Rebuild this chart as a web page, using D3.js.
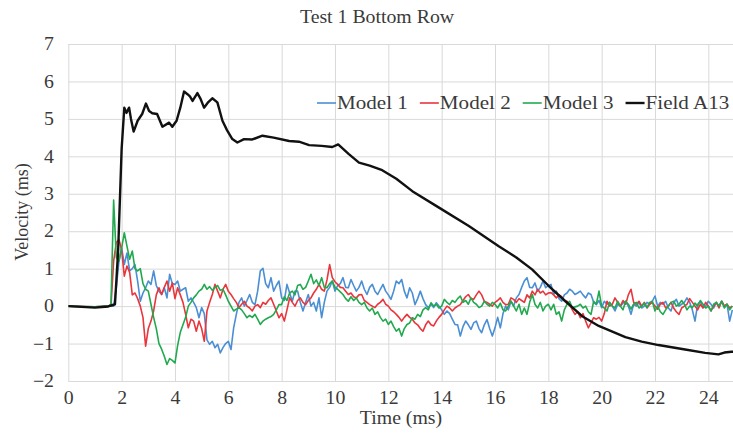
<!DOCTYPE html>
<html>
<head>
<meta charset="utf-8">
<script src="https://cdn.jsdelivr.net/npm/d3@7"></script>
<style>
  body { margin: 0; background: #fff; }
  svg { display: block; }
  text { font-family: "Liberation Serif", "Times New Roman", serif; }
</style>
</head>
<body>
<svg id="chart" width="733" height="433"></svg>
<script>
// Series names and colours
const seriesNames = ["Model 1", "Model 2", "Model 3", "Field A13"];
const seriesColors = ["#4a8fd4", "#e8363c", "#22a94f", "#111111"];

// Sample times (ms) shared by the three model traces
const modelTime = [
  0, 0.5, 1.0, 1.5,
  1.6, 1.7, 1.8, 1.9,
  2.0, 2.1, 2.2, 2.3, 2.4, 2.5, 2.6, 2.7, 2.8, 2.9,
  3.0, 3.1, 3.2, 3.3, 3.4, 3.5, 3.6, 3.7, 3.8, 3.9,
  4.0, 4.1, 4.2, 4.3, 4.4, 4.5, 4.6, 4.7, 4.8, 4.9,
  5.0, 5.1, 5.2, 5.3, 5.4, 5.5, 5.6, 5.7, 5.8, 5.9,
  6.0, 6.1, 6.2, 6.3, 6.4, 6.5, 6.6, 6.7, 6.8, 6.9,
  7.0, 7.1, 7.2, 7.3, 7.4, 7.5, 7.6, 7.7, 7.8, 7.9,
  8.0, 8.1, 8.2, 8.3, 8.4, 8.5, 8.6, 8.7, 8.8, 8.9,
  9.0, 9.1, 9.2, 9.3, 9.4, 9.5, 9.6, 9.7, 9.8, 9.9,
  10.0, 10.1, 10.2, 10.3, 10.4, 10.5, 10.6, 10.7, 10.8, 10.9,
  11.0, 11.1, 11.2, 11.3, 11.4, 11.5, 11.6, 11.7, 11.8, 11.9,
  12.0, 12.1, 12.2, 12.3, 12.4, 12.5, 12.6, 12.7, 12.8, 12.9,
  13.0, 13.1, 13.2, 13.3, 13.4, 13.5, 13.6, 13.7, 13.8, 13.9,
  14.0, 14.1, 14.2, 14.3, 14.4, 14.5, 14.6, 14.7, 14.8, 14.9,
  15.0, 15.1, 15.2, 15.3, 15.4, 15.5, 15.6, 15.7, 15.8, 15.9,
  16.0, 16.1, 16.2, 16.3, 16.4, 16.5, 16.6, 16.7, 16.8, 16.9,
  17.0, 17.1, 17.2, 17.3, 17.4, 17.5, 17.6, 17.7, 17.8, 17.9,
  18.0, 18.1, 18.2, 18.3, 18.4, 18.5, 18.6, 18.7, 18.8, 18.9,
  19.0, 19.1, 19.2, 19.3, 19.4, 19.5, 19.6, 19.7, 19.8, 19.9,
  20.0, 20.1, 20.2, 20.3, 20.4, 20.5, 20.6, 20.7, 20.8, 20.9,
  21.0, 21.1, 21.2, 21.3, 21.4, 21.5, 21.6, 21.7, 21.8, 21.9,
  22.0, 22.1, 22.2, 22.3, 22.4, 22.5, 22.6, 22.7, 22.8, 22.9,
  23.0, 23.1, 23.2, 23.3, 23.4, 23.5, 23.6, 23.7, 23.8, 23.9,
  24.0, 24.1, 24.2, 24.3, 24.4, 24.5, 24.6, 24.7, 24.8, 24.9
];

// Model 1 velocity (blue)
const model1 = [
  0, -0.01, -0.02, 0,
  0.0, 0.0, 0.5, 1.2,
  1.56, 1.11, 1.42, 0.94, 1.0, 1.11, 0.67, 0.13, 0.35, 0.49,
  0.67, 0.58, 0.94, 0.55, 0.4, 0.31, 0.49, 0.22, 0.85, 0.6,
  0.58, 0.67, 0.4, 0.45, 0.49, 0.13, 0.22, 0.1, -0.04, -0.31,
  -0.04, -0.2, -0.9, -1.02, -0.94, -1.11, -1.02, -1.25, -1.11, -1.0,
  -0.94, -1.16, -0.58, -0.22, 0.1, 0.22, 0.0, 0.15, 0.31, 0.1,
  0.04, 0.4, 0.94, 1.01, 0.6, 0.49, 0.76, 0.4, 0.55, 0.67,
  0.22, 0.15, 0.58, 0.35, 0.13, 0.4, 0.4, 0.1, -0.13, 0.1,
  0.31, 0.0, 0.1, -0.13, 0.22, -0.31, 0.1, 0.4, 0.5, 0.67,
  0.4, 0.55, 0.6, 0.76, 0.5, 0.49, 0.71, 0.55, 0.4, 0.5,
  0.67, 0.45, 0.31, 0.5, 0.58, 0.4, 0.31, 0.45, 0.58, 0.4,
  0.3, 0.18, 0.4, 0.67, 0.6, 0.71, 0.4, 0.22, 0.49, 0.35,
  0.04, 0.2, 0.4, 0.2, 0.04, -0.04, 0.05, -0.04, 0.09, 0.0,
  -0.1, -0.22, -0.13, -0.2, -0.35, -0.49, -0.5, -0.8, -0.55, -0.4,
  -0.5, -0.62, -0.45, -0.4, -0.6, -0.71, -0.5, -0.36, -0.6, -0.8,
  -0.58, -0.3, -0.58, -0.2, 0.0, -0.1, 0.13, 0.0, 0.22, 0.31,
  0.5, 0.67, 0.76, 0.5, 0.49, 0.62, 0.4, 0.5, 0.67, 0.49,
  0.55, 0.58, 0.31, 0.4, 0.2, 0.13, 0.3, 0.35, 0.45, 0.4,
  0.31, 0.35, 0.4, 0.3, 0.22, 0.35, 0.31, 0.1, 0.04, 0.15,
  -0.04, 0.13, 0.05, 0.1, 0.0, -0.13, 0.05, 0.0, 0.08, 0.13,
  0.0, -0.22, 0.05, 0.0, 0.1, -0.05, 0.0, 0.1, 0.05, 0.13,
  0.27, 0.0, 0.1, 0.05, 0.13, -0.05, -0.13, 0.1, 0.18, 0.0,
  0.05, 0.1, 0.22, 0.1, -0.1, -0.4, 0.05, 0.13, -0.04, 0.0,
  0.13, 0.05, -0.05, 0.1, 0.0, 0.13, 0.0, 0.05, -0.4, -0.1
];

// Model 2 velocity (red)
const model2 = [
  0, -0.01, -0.02, 0,
  0.0, 1.2, 1.7, 1.78,
  1.5, 0.8, 1.07, 0.9, 0.3, 0.35, 0.2, 0.0, -0.3, -1.07,
  -0.6, -0.4, -0.13, 0.3, 0.49, 0.31, 0.5, 0.67, 0.4, 0.62,
  0.2, 0.49, 0.3, 0.1, -0.22, -0.58, -0.35, -0.4, -0.67, -0.4,
  -0.6, -0.94, -0.13, 0.1, 0.31, 0.58, 0.4, 0.22, 0.45, 0.58,
  0.4, 0.31, 0.2, 0.1, -0.04, 0.05, 0.13, 0.0, -0.05, -0.13,
  0.0, 0.04, -0.04, 0.1, 0.05, 0.15, 0.22, 0.05, -0.13, -0.31,
  -0.2, -0.4, -0.1, 0.22, 0.1, 0.0, 0.15, 0.22, 0.1, 0.04,
  0.15, 0.22, 0.35, 0.45, 0.58, 0.45, 0.4, 0.7, 1.11, 0.76,
  0.65, 0.58, 0.5, 0.49, 0.4, 0.31, 0.35, 0.25, 0.22, 0.3,
  0.31, 0.15, 0.1, 0.04, 0.0, -0.04, 0.05, 0.1, 0.18, 0.05,
  0.0, -0.1, -0.15, -0.22, -0.3, -0.4, -0.3, -0.22, -0.3, -0.35,
  -0.45, -0.5, -0.6, -0.67, -0.5, -0.4, -0.5, -0.53, -0.4, -0.3,
  -0.22, -0.1, 0.0, -0.05, -0.13, -0.05, 0.0, 0.04, 0.15, 0.25,
  0.31, 0.2, 0.18, 0.3, 0.4, 0.3, 0.13, 0.1, 0.05, 0.0,
  0.1, 0.15, 0.22, 0.1, 0.04, 0.05, 0.22, 0.18, 0.1, 0.2,
  0.15, 0.1, 0.3, 0.22, 0.4, 0.3, 0.45, 0.35, 0.4, 0.3,
  0.35, 0.36, 0.3, 0.22, 0.3, 0.25, 0.15, 0.13, 0.05, -0.1,
  -0.22, -0.15, -0.31, -0.2, -0.4, -0.58, -0.45, -0.31, -0.35, -0.3,
  -0.4, -0.2, 0.13, 0.0, 0.05, 0.22, 0.1, 0.0, 0.15, 0.05,
  0.3, 0.45, 0.1, 0.05, 0.13, 0.0, 0.1, -0.05, 0.05, 0.1,
  0.0, -0.08, 0.05, 0.1, -0.05, 0.0, 0.1, -0.05, -0.15, -0.22,
  -0.05, 0.0, 0.05, 0.2, 0.1, 0.0, -0.1, 0.05, -0.05, 0.1,
  0.0, -0.13, 0.0, 0.1, -0.05, 0.13, 0.0, 0.05, -0.05, 0.0
];

// Model 3 velocity (green)
const model3 = [
  0, -0.01, -0.02, 0,
  0.05, 2.83, 1.3, 1.2,
  1.55, 1.96, 1.6, 1.25, 1.47, 1.0, 0.94, 1.0, 0.6, 0.45,
  0.4, 0.05, -0.3, -0.6, -1.0, -1.15, -1.34, -1.56, -1.4, -1.45,
  -1.52, -1.05, -0.7, -0.5, -0.3, 0.0, 0.1, 0.22, 0.3, 0.4,
  0.45, 0.58, 0.45, 0.52, 0.42, 0.5, 0.55, 0.42, 0.45, 0.3,
  0.13, 0.0, -0.13, -0.08, -0.04, -0.1, -0.2, -0.31, -0.25, -0.3,
  -0.22, -0.35, -0.49, -0.4, -0.35, -0.31, -0.28, -0.22, -0.1, 0.04,
  0.04, 0.25, 0.15, 0.35, 0.4, 0.3, 0.55, 0.58, 0.45, 0.5,
  0.67, 0.85, 0.6, 0.7, 0.55, 0.76, 0.5, 0.49, 0.6, 0.67,
  0.5, 0.45, 0.38, 0.31, 0.2, 0.13, 0.25, 0.15, 0.22, 0.1,
  0.04, 0.1, -0.05, -0.13, -0.05, -0.22, -0.15, -0.3, -0.4, -0.35,
  -0.49, -0.4, -0.55, -0.67, -0.6, -0.8, -0.6, -0.49, -0.45, -0.31,
  -0.35, -0.22, -0.28, -0.1, -0.04, -0.1, 0.09, 0.0, 0.05, -0.05,
  0.0, 0.18, 0.1, 0.04, 0.15, 0.1, 0.2, 0.27, 0.1, 0.15,
  0.05, 0.22, 0.1, 0.05, -0.04, 0.0, 0.13, 0.05, 0.0, 0.1,
  0.05, -0.05, 0.08, -0.1, -0.13, 0.0, 0.13, 0.0, -0.13, 0.05,
  -0.22, -0.05, -0.22, 0.1, 0.31, 0.05, -0.05, 0.1, -0.13, 0.0,
  0.05, -0.1, 0.05, -0.22, -0.15, -0.4, -0.1, 0.05, 0.13, -0.05,
  -0.02, 0.0, 0.05, -0.05, 0.0, -0.15, -0.22, 0.13, 0.05, 0.4,
  0.0, -0.05, -0.13, 0.1, 0.0, -0.05, 0.13, 0.0, -0.1, 0.13,
  0.05, -0.08, 0.05, 0.1, -0.05, 0.0, 0.08, -0.04, 0.1, 0.13,
  -0.13, 0.0, -0.15, -0.22, -0.1, 0.0, 0.1, 0.13, 0.0, 0.05,
  0.15, 0.05, -0.1, 0.0, -0.04, 0.08, 0.0, 0.15, 0.05, -0.05,
  0.0, -0.13, 0.05, 0.1, 0.0, 0.13, -0.05, 0.05, -0.1, 0.0
];

// Field measurement A13 (black)
const fieldTime = [
  0, 0.5, 1.0, 1.5, 1.75, 1.87, 2.0, 2.1, 2.18, 2.28, 2.35, 2.45, 2.6, 2.77,
  2.91, 3.03, 3.15, 3.33, 3.53, 3.78, 3.9, 4.06, 4.2, 4.34, 4.47, 4.56, 4.66,
  4.84, 4.95, 5.09, 5.25, 5.4, 5.59, 5.78, 5.95, 6.15, 6.34, 6.59, 6.9, 7.28,
  7.7, 8.28, 8.65, 9.03, 9.5, 9.9, 10.12, 10.52, 10.9, 11.3, 11.77, 12.3, 12.9,
  13.9, 15.02, 16.14, 16.8, 17.39, 18.0, 18.64, 19.27, 19.89, 20.89, 21.5,
  22.13, 23.13, 23.88, 24.38, 24.6, 24.87, 25
];
const fieldA13 = [
  0.0, -0.02, -0.04, -0.01, 0.05, 1.5, 4.2, 5.3, 5.16, 5.3, 5.0, 4.66, 4.95, 5.13,
  5.41, 5.21, 5.15, 5.13, 4.79, 4.9, 4.79, 4.95, 5.3, 5.73, 5.66, 5.6, 5.48,
  5.69, 5.55, 5.3, 5.45, 5.55, 5.44, 4.95, 4.7, 4.46, 4.37, 4.46, 4.45, 4.55,
  4.5, 4.41, 4.39, 4.3, 4.28, 4.25, 4.32, 4.06, 3.83, 3.75, 3.63, 3.4, 3.07,
  2.63, 2.14, 1.6, 1.3, 0.98, 0.55, 0.13, -0.27, -0.53, -0.83, -0.95,
  -1.04, -1.16, -1.25, -1.29, -1.24, -1.22, -1.22
];

// Axis ticks
const xTicks = [0, 2, 4, 6, 8, 10, 12, 14, 16, 18, 20, 22, 24];
const yTicks = [-2, -1, 0, 1, 2, 3, 4, 5, 6, 7];

const chartTitle = "Test 1 Bottom Row";
const xTitle = "Time (ms)";
const yTitle = "Velocity (ms)";

// ---- layout ----
const plot = { left: 68.3, right: 735, top: 44, bottom: 381 };
const textColor = "#3a3a3a";
const gridColor = "#d9d9d9";
const fontSize = 18;
const wide = "scale(1.1,1)";   // serif text is drawn slightly widened

const svg = d3.select("#chart");

const x = d3.scaleLinear().domain([0, 25]).range([plot.left, plot.right]);
const y = d3.scaleLinear().domain([-2, 7]).range([plot.bottom, plot.top]);

// Gridlines + tick labels via axes
const xAxis = svg.append("g")
  .attr("transform", `translate(0,${plot.bottom})`)
  .call(d3.axisBottom(x).tickValues(xTicks)
    .tickSizeInner(-(plot.bottom - plot.top)).tickSizeOuter(0).tickPadding(10));
const yAxis = svg.append("g")
  .attr("transform", `translate(${plot.left},0)`)
  .call(d3.axisLeft(y).tickValues(yTicks)
    .tickSizeInner(-(plot.right - plot.left)).tickSizeOuter(0).tickPadding(13));

[xAxis, yAxis].forEach(g => {
  g.select(".domain").remove();
  g.selectAll(".tick line").attr("stroke", gridColor).attr("stroke-width", 1);
  g.selectAll(".tick text")
    .attr("fill", textColor)
    .attr("font-size", fontSize)
    .attr("font-family", "Liberation Serif, Times New Roman, serif")
    .attr("transform", wide);
});

// Series lines
const lineGen = d3.line()
  .x(d => x(d[0]))
  .y(d => y(d[1]));

const series = [
  { name: seriesNames[0], color: seriesColors[0], t: modelTime, v: model1, w: 1.6 },
  { name: seriesNames[1], color: seriesColors[1], t: modelTime, v: model2, w: 1.6 },
  { name: seriesNames[2], color: seriesColors[2], t: modelTime, v: model3, w: 1.6 },
  { name: seriesNames[3], color: seriesColors[3], t: fieldTime, v: fieldA13, w: 2.4 }
];

svg.append("defs").append("clipPath").attr("id", "plotClip")
  .append("rect")
  .attr("x", plot.left).attr("y", plot.top - 5)
  .attr("width", plot.right - plot.left).attr("height", plot.bottom - plot.top + 10);

const lines = svg.append("g").attr("clip-path", "url(#plotClip)");
series.forEach(s => {
  lines.append("path")
    .datum(s.t.map((t, i) => [t, s.v[i]]))
    .attr("fill", "none")
    .attr("stroke", s.color)
    .attr("stroke-width", s.w)
    .attr("stroke-linejoin", "round")
    .attr("d", lineGen);
});

// Title
svg.append("text")
  .attr("transform", `translate(377,23) ${wide}`)
  .attr("text-anchor", "middle")
  .attr("font-size", fontSize)
  .attr("fill", textColor)
  .text(chartTitle);

// Axis titles
svg.append("text")
  .attr("transform", `translate(401,424) ${wide}`)
  .attr("text-anchor", "middle")
  .attr("font-size", fontSize)
  .attr("fill", textColor)
  .text(xTitle);

svg.append("text")
  .attr("transform", "translate(28,212) rotate(-90)")
  .attr("text-anchor", "middle")
  .attr("font-size", fontSize)
  .attr("fill", textColor)
  .text(yTitle);

// Legend
const legend = svg.append("g");
let lx = 317;
const ly = 103;
series.forEach(s => {
  legend.append("line")
    .attr("x1", lx).attr("x2", lx + 19)
    .attr("y1", ly).attr("y2", ly)
    .attr("stroke", s.color)
    .attr("stroke-width", s.w);
  const t = legend.append("text")
    .attr("transform", `translate(${lx + 20},${ly + 6}) scale(1.14,1)`)
    .attr("font-size", 18.5)
    .attr("fill", textColor)
    .text(s.name);
  lx += 20 + t.node().getComputedTextLength() * 1.14 + 12;
});
</script>
</body>
</html>
